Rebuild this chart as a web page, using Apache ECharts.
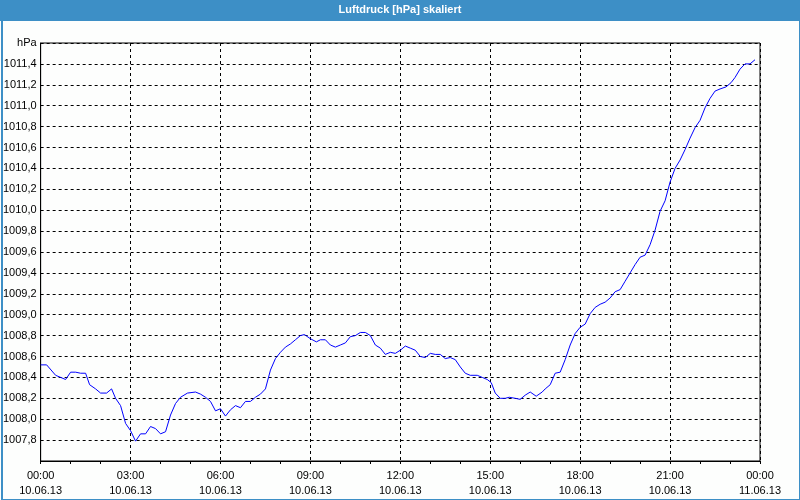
<!DOCTYPE html>
<html>
<head>
<meta charset="utf-8">
<script src="https://cdn.jsdelivr.net/npm/echarts@6/dist/echarts.min.js"></script>
<style>
html,body{margin:0;padding:0;background:#fff;}
#c{width:800px;height:500px;}
</style>
</head>
<body>
<div id="c"></div>
<script>
// minutes since 00:00 on 10.06.13
var minutes = [0,12,30,40,50,60,70,80,90,98,110,120,132,142,150,160,170,180,190,200,210,220,230,240,250,260,270,280,294,310,320,330,340,350,360,370,380,390,400,410,420,430,440,450,460,470,480,490,500,510,520,528,540,552,560,570,580,590,600,610,620,630,640,650,660,670,680,690,700,710,720,730,740,750,760,770,780,790,800,810,820,830,840,850,860,874,884,894,902,910,920,930,938,950,960,970,980,992,1004,1010,1020,1030,1040,1050,1060,1070,1080,1090,1100,1110,1120,1130,1140,1150,1160,1170,1180,1190,1200,1210,1220,1230,1240,1250,1260,1270,1280,1290,1300,1310,1320,1330,1340,1350,1360,1372,1382,1390,1400,1410,1420,1430];
var pressure = [1008.52,1008.52,1008.42,1008.40,1008.38,1008.45,1008.45,1008.44,1008.44,1008.33,1008.29,1008.25,1008.25,1008.29,1008.20,1008.13,1007.96,1007.89,1007.79,1007.86,1007.86,1007.93,1007.91,1007.86,1007.88,1008.04,1008.15,1008.21,1008.25,1008.26,1008.24,1008.21,1008.17,1008.08,1008.10,1008.03,1008.09,1008.13,1008.11,1008.17,1008.17,1008.21,1008.24,1008.29,1008.47,1008.58,1008.64,1008.69,1008.72,1008.76,1008.80,1008.81,1008.77,1008.74,1008.76,1008.76,1008.71,1008.69,1008.71,1008.73,1008.79,1008.80,1008.83,1008.83,1008.80,1008.71,1008.68,1008.62,1008.64,1008.63,1008.66,1008.70,1008.68,1008.66,1008.60,1008.59,1008.63,1008.62,1008.62,1008.58,1008.59,1008.57,1008.50,1008.44,1008.42,1008.42,1008.40,1008.38,1008.35,1008.25,1008.20,1008.20,1008.21,1008.20,1008.19,1008.23,1008.26,1008.22,1008.26,1008.29,1008.33,1008.44,1008.45,1008.57,1008.71,1008.82,1008.88,1008.91,1009.01,1009.07,1009.10,1009.12,1009.16,1009.22,1009.24,1009.32,1009.40,1009.48,1009.55,1009.57,1009.67,1009.81,1009.99,1010.09,1010.27,1010.40,1010.48,1010.58,1010.69,1010.79,1010.86,1010.98,1011.07,1011.14,1011.16,1011.18,1011.22,1011.27,1011.35,1011.40,1011.40,1011.44];
var xTickTimes = ['00:00','03:00','06:00','09:00','12:00','15:00','18:00','21:00','00:00'];
var xTickDates = ['10.06.13','10.06.13','10.06.13','10.06.13','10.06.13','10.06.13','10.06.13','10.06.13','11.06.13'];
var titleText = 'Luftdruck [hPa] skaliert';
var unitLabel = 'hPa';

var FONT = 'Liberation Sans';
var chart = echarts.init(document.getElementById('c'), null, {renderer: 'canvas'});
var data = minutes.map(function (m, i) { return [m, pressure[i]]; });

chart.setOption({
  animation: false,
  backgroundColor: '#fdfefd',
  graphic: [
    {type: 'rect', left: 1, top: 1, z: -10, shape: {width: 798, height: 498},
     style: {fill: '#fdfefd', stroke: '#3d8fc6', lineWidth: 2}},
    {type: 'rect', left: 0, top: 0, z: -5, shape: {width: 800, height: 21},
     style: {fill: '#3d8fc6'}},
    {type: 'text', left: 'center', top: 4, z: 10,
     style: {text: titleText, fill: '#ffffff', font: 'bold 11px "' + FONT + '"'}}
  ],
  grid: {left: 40, right: 40, top: 43, bottom: 39, show: true, borderColor: '#000', borderWidth: 1, backgroundColor: 'transparent'},
  xAxis: {
    type: 'value', min: 0, max: 1440, interval: 180,
    axisLine: {show: true, lineStyle: {color: '#000', width: 1}},
    axisTick: {show: true, length: 3, lineStyle: {color: '#000'}},
    minorTick: {show: true, splitNumber: 3, length: 3, lineStyle: {color: '#000'}},
    splitLine: {show: true, lineStyle: {color: '#000', type: [3, 3], width: 1}},
    axisLabel: {
      margin: 7, color: '#000', fontFamily: FONT, fontSize: 11, lineHeight: 15,
      formatter: function (v) { var i = Math.round(v / 180); return xTickTimes[i] + '\n' + xTickDates[i]; }
    }
  },
  yAxis: {
    type: 'value', min: 1007.6, max: 1011.6, interval: 0.2,
    axisLine: {show: true, lineStyle: {color: '#000', width: 1}},
    axisTick: {show: false},
    splitLine: {show: true, lineStyle: {color: '#000', type: [3, 3], width: 1}},
    axisLabel: {
      margin: 4, color: '#000', fontFamily: FONT, fontSize: 11, showMinLabel: false,
      formatter: function (v) {
        if (Math.abs(v - 1011.6) < 0.01) return unitLabel;
        if (Math.abs(v - 1007.6) < 0.01) return '';
        return v.toFixed(1).replace('.', ',');
      }
    }
  },
  series: [{
    type: 'line', data: data, showSymbol: false, symbol: 'none',
    lineStyle: {color: '#0000ff', width: 1}, z: 5
  }]
});
</script>
</body>
</html>
